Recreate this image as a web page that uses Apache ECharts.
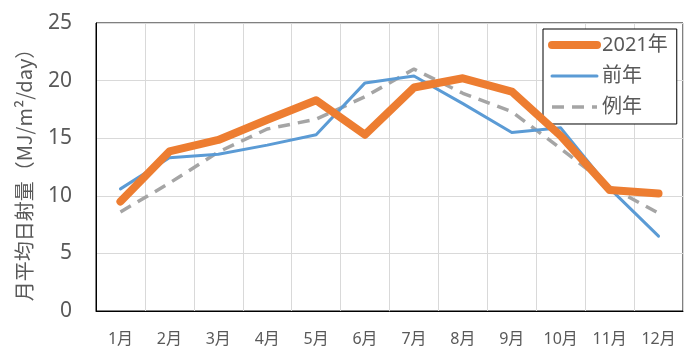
<!DOCTYPE html>
<html><head><meta charset="utf-8">
<script src="https://cdn.jsdelivr.net/npm/echarts@6/dist/echarts.min.js"></script>
<style>html,body{margin:0;padding:0;background:#fff}#c{width:700px;height:364px}</style>
</head><body><div id="c"></div>
<script>
const months = ['1月','2月','3月','4月','5月','6月','7月','8月','9月','10月','11月','12月'];
const series2021 = [9.5, 13.85, 14.85, 16.6, 18.3, 15.3, 19.4, 20.2, 19.05, 15.2, 10.5, 10.2];
const seriesPrev = [10.6, 13.3, 13.6, 14.4, 15.3, 19.8, 20.4, 18.0, 15.5, 15.9, 10.65, 6.5];
const seriesNormal = [8.6, 11.1, 13.8, 15.8, 16.65, 18.6, 21.0, 18.9, 17.3, 14.1, 10.8, 8.5];
const names = ['2021年', '前年', '例年'];
const yTicks = {min: 0, max: 25, interval: 5};

const FONT = "'Noto Sans','Noto Sans CJK JP',sans-serif";
const TXT = '#595959';
const C = {orange: '#ED7D31', blue: '#5B9BD5', gray: '#A5A5A5'};
const chart = echarts.init(document.getElementById('c'));
chart.setOption({
  animation: false,
  backgroundColor: '#fff',
  grid: {left: 96, right: 17, top: 23, bottom: 53, show: true, borderColor: '#000', borderWidth: 1},
  legend: {
    orient: 'vertical', left: 543, top: 29, width: 127,
    backgroundColor: '#fff', borderColor: '#000', borderWidth: 1,
    padding: [6, 9, 7, 5], itemGap: 11, itemWidth: 45, itemHeight: 16,
    itemStyle: {opacity: 0},
    textStyle: {fontFamily: FONT, fontSize: 20, color: TXT},
    data: [
      {name: names[0], lineStyle: {width: 8, cap: 'round', color: C.orange}},
      {name: names[1], lineStyle: {width: 3, cap: 'round', color: C.blue}},
      {name: names[2], lineStyle: {width: 3.5, type: [12, 8], color: C.gray}}
    ]
  },
  xAxis: {
    type: 'category', data: months, boundaryGap: true,
    axisLine: {show: true, lineStyle: {color: '#000', width: 1}},
    axisTick: {show: false},
    axisLabel: {fontFamily: FONT, fontSize: 16, color: TXT, margin: 20},
    splitLine: {show: true, lineStyle: {color: '#D9D9D9', width: 1}}
  },
  yAxis: {
    type: 'value', min: yTicks.min, max: yTicks.max, interval: yTicks.interval,
    name: '月平均日射量（MJ/m²/day）', nameLocation: 'middle', nameGap: 62,
    nameTextStyle: {fontFamily: "'Noto Sans CJK JP',sans-serif", fontSize: 20, color: TXT, padding: [0, 6, 0, 0]},
    axisLine: {show: true, lineStyle: {color: '#000', width: 1}},
    axisTick: {show: false},
    axisLabel: {fontFamily: FONT, fontSize: 21, color: TXT, margin: 24},
    splitLine: {show: true, lineStyle: {color: '#D9D9D9', width: 1}}
  },
  series: [
    {name: names[2], type: 'line', data: seriesNormal, symbol: 'none', z: 2,
     lineStyle: {color: C.gray, width: 3.5, type: [12, 8], cap: 'butt'}, itemStyle: {color: C.gray}},
    {name: names[1], type: 'line', data: seriesPrev, symbol: 'none', z: 3,
     lineStyle: {color: C.blue, width: 3, cap: 'round', join: 'round'}, itemStyle: {color: C.blue}},
    {name: names[0], type: 'line', data: series2021, symbol: 'none', z: 4,
     lineStyle: {color: C.orange, width: 8, cap: 'round', join: 'round'}, itemStyle: {color: C.orange}}
  ]
});
</script></body></html>
